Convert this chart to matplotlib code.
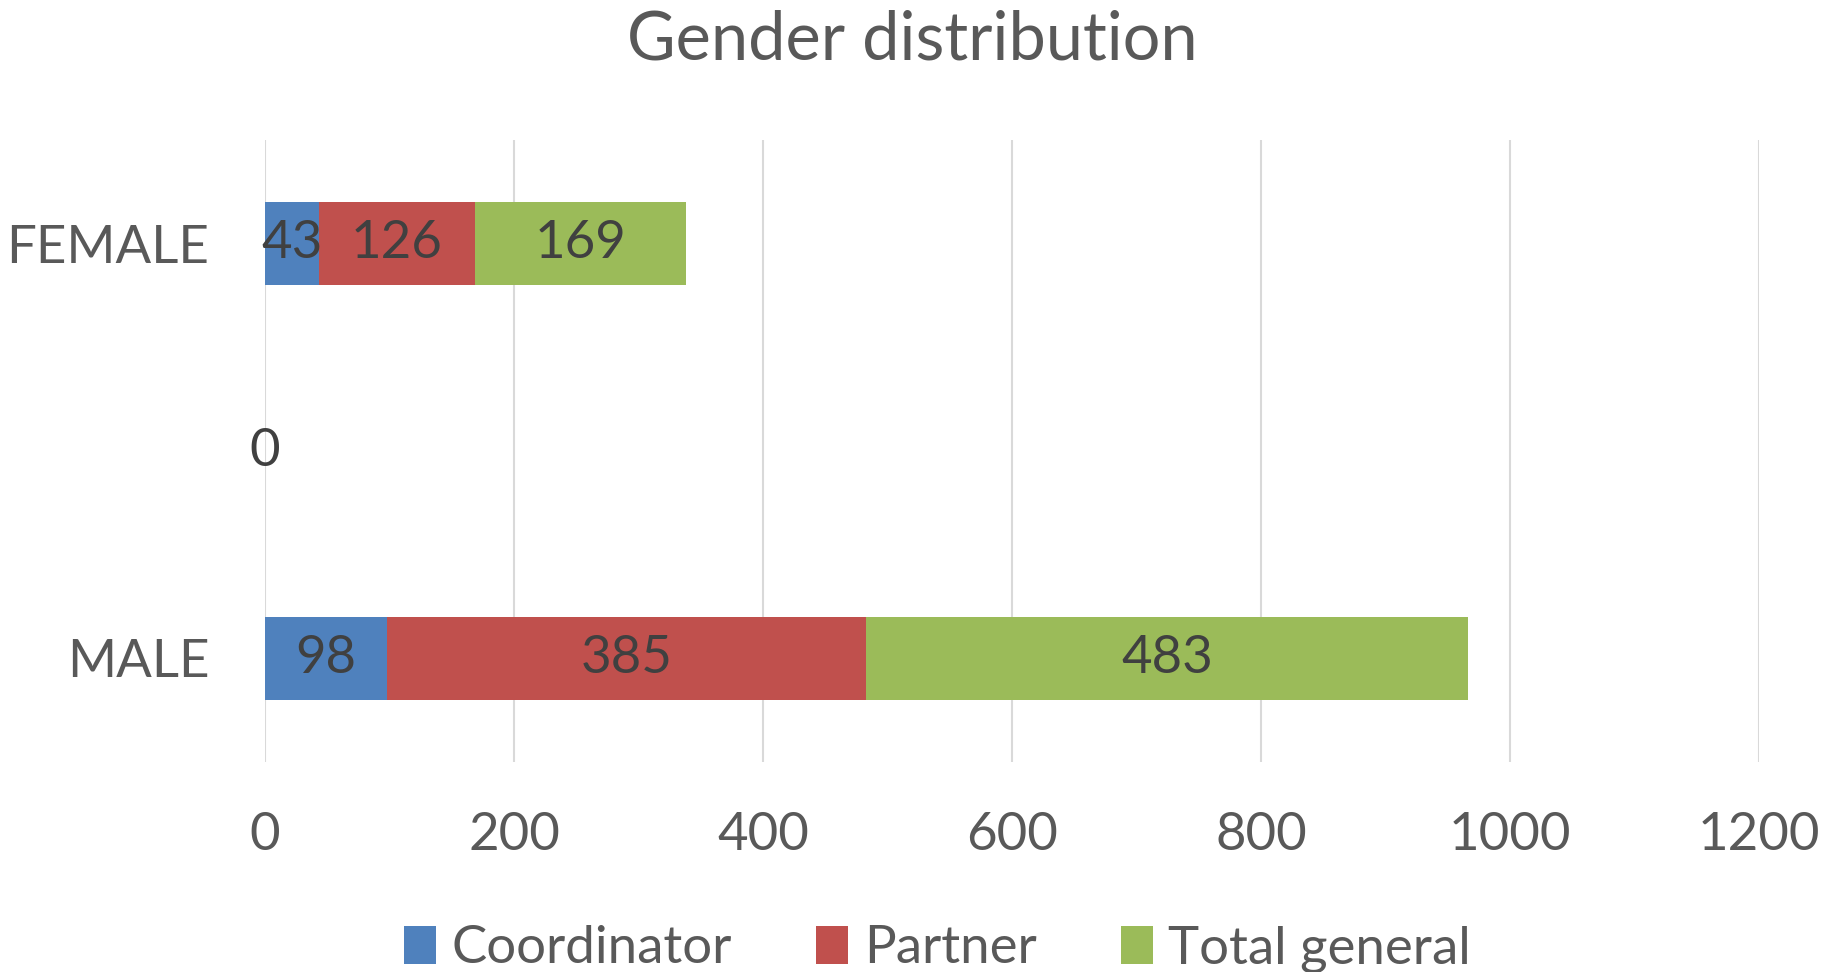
import numpy as np
import matplotlib.pyplot as plt

# data
categories = ["MALE", "", "FEMALE"]
coordinator = [98, 0, 43]
partner = [385, 0, 126]
total_general = [483, 0, 169]
series_names = ["Coordinator", "Partner", "Total general"]
colors = ["#4F81BD", "#C0504D", "#9BBB59"]
xticks = [0, 200, 400, 600, 800, 1000, 1200]

plt.rcParams["font.family"] = ["Lato", "DejaVu Sans"]
text_col = "#595959"

fig = plt.figure(figsize=(18.24, 9.72), dpi=100)
ax = fig.add_axes([0.1453, 0.216, 0.8191, 0.640])

y = np.arange(len(categories))
left = np.zeros(len(categories))
for vals, name, col in zip([coordinator, partner, total_general], series_names, colors):
    vals = np.array(vals)
    ax.barh(y, vals, left=left, height=0.4, color=col, label=name, zorder=2)
    for yi, (l, v) in enumerate(zip(left, vals)):
        if v > 0:
            ax.text(l + v / 2, yi, str(v), ha="center", va="center",
                    fontsize=38, color="#404040", zorder=3)
    left = left + vals

# zero label for the empty category
ax.text(0, 1, "0", ha="center", va="center", fontsize=38, color="#404040", zorder=3)

ax.set_xlim(0, 1200)
ax.set_ylim(-0.5, 2.5)
ax.set_xticks(xticks)
ax.set_yticks(y)
ax.set_yticklabels(categories)
ax.xaxis.grid(True, color="#D9D9D9", linewidth=1.5, zorder=0)
ax.set_axisbelow(True)
for s in ax.spines.values():
    s.set_visible(False)
ax.tick_params(axis="both", length=0, labelsize=38, labelcolor=text_col)
ax.tick_params(axis="x", pad=36)
ax.tick_params(axis="y", pad=40)

fig.text(0.5, 1 - 41 / 972, "Gender distribution", ha="center", va="center",
         fontsize=48, color=text_col)

fig.legend(loc="center", bbox_to_anchor=(0.514, 1 - 949 / 972), ncol=3, frameon=False,
           fontsize=38, labelcolor=text_col, handlelength=0.6, handleheight=0.75,
           handletextpad=0.3, columnspacing=1.6)

fig.savefig("out.png", dpi=100)
